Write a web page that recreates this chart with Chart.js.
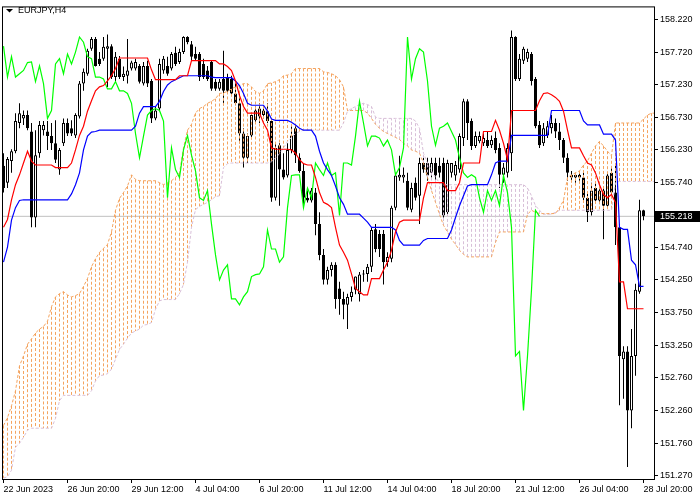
<!DOCTYPE html>
<html>
<head>
<meta charset="utf-8">
<script src="https://cdn.jsdelivr.net/npm/chart.js@4.4.1/dist/chart.umd.min.js"></script>
<style>
  html, body { margin: 0; padding: 0; background: #fff; }
</style>
</head>
<body>
<canvas id="myChart" width="700" height="500"></canvas>
<script>
// EURJPY H4 bars, index 0 = 22 Jun 2023 00:00
var open = [
  155.99,155.73,156.06,156.21,156.64,156.71,156.76,156.51,155.20,156.18,
  156.53,156.51,156.44,156.33,155.93,156.33,156.64,156.56,156.45,156.74,
  157.24,157.39,157.77,157.92,157.62,157.62,157.77,157.81,157.34,157.62,
  157.34,157.36,157.47,157.47,157.51,157.24,157.51,157.28,156.71,156.86,
  157.44,157.51,157.47,157.71,157.57,157.72,157.95,157.84,157.69,157.69,
  157.54,157.44,157.57,157.27,157.16,157.31,157.34,157.31,157.09,156.94,
  156.48,156.11,156.45,156.68,156.74,156.76,156.82,156.67,155.50,156.30,
  155.93,155.84,156.23,156.56,156.11,155.91,155.50,155.46,155.58,155.10,
  154.63,154.25,154.40,154.48,154.12,153.96,153.87,153.99,154.10,154.03,
  154.33,154.34,154.45,155.02,154.95,154.95,154.52,154.57,155.35,155.81,
  155.81,155.76,155.32,155.73,155.53,156.03,156.03,155.88,156.03,155.99,
  156.03,155.28,155.88,155.84,155.93,156.41,156.97,156.67,156.29,156.36,
  156.33,156.38,156.30,156.41,156.26,155.85,155.88,156.18,157.95,157.31,
  157.59,157.62,157.69,157.31,156.61,156.33,156.45,156.56,156.64,156.51,
  156.38,156.11,155.85,155.81,155.85,155.81,155.50,155.28,155.65,155.46,
  155.61,155.38,155.88,155.58,155.05,153.04,153.16,152.26,153.09,154.07,
  155.31
];
var high = [
  156.18,156.12,156.24,156.79,156.94,156.83,156.83,156.64,156.53,156.67,
  156.67,156.67,156.64,156.68,156.26,156.71,156.71,156.68,156.79,157.28,
  157.47,157.77,157.95,157.95,157.72,157.95,157.99,157.84,157.72,157.66,
  157.50,157.92,157.59,157.62,157.54,157.57,157.59,157.31,156.89,157.62,
  157.66,157.65,157.72,157.80,157.77,157.96,157.96,157.89,157.80,157.72,
  157.62,157.51,157.59,157.31,157.31,157.74,157.39,157.36,157.24,157.09,
  156.56,156.48,156.79,156.89,156.94,156.86,156.94,156.71,156.33,156.33,
  156.18,156.33,156.61,156.61,156.18,156.03,155.61,155.65,155.65,155.28,
  154.72,154.45,154.52,154.52,154.22,154.07,154.04,154.15,154.30,154.37,
  154.40,154.49,155.05,155.10,155.01,155.01,154.67,155.38,155.88,156.14,
  155.96,155.88,155.73,155.81,156.11,156.11,156.11,156.11,156.11,156.11,
  156.11,156.08,156.03,156.06,156.48,157.01,157.00,156.71,156.51,156.51,
  156.48,156.51,156.45,156.51,156.33,156.03,156.33,158.05,157.96,157.69,
  157.80,157.77,157.72,157.34,156.67,156.64,156.67,156.76,156.71,156.64,
  156.41,156.18,155.91,155.88,155.91,155.88,155.58,155.73,155.73,155.65,
  155.65,155.88,155.96,156.03,155.10,153.24,153.24,153.50,154.19,155.47,
  155.32
];
var low = [
  155.58,155.65,155.88,156.18,156.56,156.61,156.53,155.05,155.05,156.11,
  156.45,156.23,156.23,156.03,155.85,156.29,156.44,156.44,156.41,156.71,
  157.13,157.36,157.74,157.50,157.51,157.59,157.19,157.31,157.28,157.31,
  157.28,157.24,157.44,157.44,157.24,157.21,157.19,156.64,156.68,156.82,
  157.39,157.36,157.44,157.51,157.54,157.69,157.84,157.59,157.59,157.28,
  157.31,157.28,157.13,157.13,157.13,156.91,157.09,157.06,156.91,156.33,
  155.96,156.03,156.41,156.64,156.64,156.71,156.64,155.44,155.46,155.38,
  155.78,155.81,156.18,156.03,155.88,155.38,155.43,155.43,154.93,154.55,
  154.18,154.18,154.30,153.81,153.72,153.65,153.50,153.92,154.03,153.92,
  154.22,154.22,154.37,154.67,154.60,154.18,154.45,154.52,155.31,155.76,
  155.73,155.31,155.28,155.46,155.10,155.88,155.76,155.81,155.76,155.81,
  155.16,155.23,155.81,155.76,155.88,156.29,156.38,156.23,156.26,156.33,
  156.29,156.26,156.26,156.18,155.65,155.73,155.81,155.91,157.28,157.28,
  157.54,157.57,157.21,156.56,156.26,156.29,156.41,156.48,156.41,156.23,
  156.03,155.76,155.76,155.73,155.76,155.43,155.13,155.23,155.43,155.43,
  154.87,155.35,155.55,154.78,152.34,152.44,151.40,151.99,152.79,154.04,
  155.16
];
var close = [
  155.65,156.09,156.21,156.67,156.79,156.76,156.56,155.20,156.15,156.61,
  156.61,156.44,156.33,156.08,156.23,156.64,156.48,156.48,156.76,157.24,
  157.42,157.74,157.92,157.51,157.54,157.80,157.81,157.34,157.65,157.34,
  157.39,157.44,157.56,157.57,157.27,157.51,157.24,156.71,156.83,157.54,
  157.62,157.39,157.69,157.54,157.72,157.95,157.87,157.65,157.62,157.34,
  157.34,157.31,157.16,157.16,157.27,157.13,157.13,157.09,156.94,156.48,
  156.11,156.44,156.76,156.83,156.86,156.83,156.67,155.50,156.26,155.93,
  155.81,156.23,156.45,156.15,155.91,155.50,155.46,155.61,155.10,154.63,
  154.25,154.40,154.48,153.96,153.96,153.87,153.99,154.07,154.30,154.33,
  154.34,154.45,155.01,154.72,154.72,154.52,154.60,155.35,155.84,155.85,
  155.85,155.35,155.65,155.50,156.03,155.93,155.84,156.03,155.84,155.88,
  155.23,156.03,156.03,156.00,156.44,156.97,156.64,156.29,156.44,156.44,
  156.41,156.29,156.38,156.23,155.85,155.96,156.26,157.95,157.31,157.62,
  157.77,157.72,157.28,156.59,156.30,156.56,156.59,156.64,156.51,156.38,
  156.11,155.88,155.81,155.85,155.81,155.50,155.28,155.61,155.46,155.61,
  155.38,155.84,155.58,155.05,153.09,153.16,152.26,153.09,154.10,155.31,
  155.218
];

// ichimoku lines
var tenkan = [
  155.05,155.17,155.47,155.70,155.85,156.03,156.21,156.06,156.00,156.00,
  156.00,156.00,156.00,155.96,155.96,155.96,155.96,156.03,156.23,156.45,
  156.59,156.82,156.98,157.13,157.19,157.21,157.28,157.36,157.47,157.63,
  157.63,157.63,157.63,157.63,157.63,157.63,157.63,157.45,157.30,157.30,
  157.30,157.30,157.30,157.30,157.36,157.36,157.36,157.59,157.59,157.59,
  157.59,157.59,157.59,157.59,157.54,157.54,157.50,157.44,157.28,157.06,
  156.89,156.79,156.79,156.79,156.79,156.64,156.53,156.26,156.24,156.24,
  156.24,156.24,156.23,156.18,156.08,156.02,156.00,156.00,155.81,155.58,
  155.43,155.40,155.35,155.05,154.78,154.67,154.55,154.34,154.12,154.07,
  154.02,154.02,154.27,154.27,154.27,154.40,154.52,154.70,154.98,155.13,
  155.16,155.16,155.16,155.16,155.16,155.50,155.73,155.73,155.73,155.73,
  155.73,155.61,155.61,155.61,155.73,156.03,156.03,156.03,156.03,156.03,
  156.51,156.51,156.51,156.68,156.53,156.33,156.08,156.83,156.83,156.83,
  156.83,156.83,156.83,156.83,156.98,157.09,157.10,157.07,157.03,156.97,
  156.82,156.53,156.26,156.26,156.26,156.14,156.03,156.00,155.88,155.70,
  155.55,155.50,155.55,155.43,154.22,154.22,153.81,153.81,153.81,153.81,
  153.81
];
var kijun = [
  154.52,154.75,155.16,155.35,155.46,155.47,155.47,155.47,155.47,155.47,
  155.47,155.47,155.47,155.47,155.47,155.47,155.47,155.56,155.70,155.88,
  156.23,156.44,156.50,156.51,156.53,156.53,156.53,156.53,156.53,156.53,
  156.53,156.53,156.53,156.59,156.79,156.89,156.89,156.89,156.89,156.97,
  157.12,157.22,157.27,157.30,157.33,157.36,157.36,157.36,157.36,157.36,
  157.36,157.36,157.34,157.33,157.33,157.33,157.33,157.33,157.28,157.21,
  157.09,156.94,156.91,156.91,156.91,156.91,156.82,156.70,156.68,156.68,
  156.68,156.68,156.65,156.61,156.56,156.53,156.53,156.53,156.44,156.21,
  156.03,155.93,155.84,155.68,155.50,155.40,155.25,155.25,155.25,155.25,
  155.19,155.13,155.05,155.05,155.05,155.05,155.05,155.05,155.01,154.85,
  154.78,154.78,154.78,154.78,154.78,154.85,154.88,154.88,154.88,154.88,
  154.88,154.88,155.01,155.20,155.38,155.53,155.68,155.70,155.70,155.70,
  155.70,155.70,155.85,156.03,156.06,156.06,156.06,156.45,156.45,156.45,
  156.45,156.45,156.45,156.45,156.45,156.45,156.45,156.83,156.83,156.83,
  156.83,156.83,156.83,156.83,156.83,156.67,156.61,156.61,156.61,156.61,
  156.47,156.47,156.47,156.38,155.05,155.02,155.02,154.55,154.48,154.15,
  154.15
];
// senkou spans run 3 bars past the last candle to the right edge
var senkouA = [
  152.03,152.15,152.33,152.56,152.94,153.09,153.27,153.35,153.44,153.50,
  153.54,153.62,153.84,153.99,154.04,154.07,154.02,153.99,154.01,154.04,
  154.15,154.27,154.45,154.57,154.67,154.73,154.79,154.98,155.31,155.49,
  155.58,155.68,155.85,155.78,155.76,155.76,155.76,155.76,155.76,155.73,
  155.70,155.73,155.76,155.81,155.88,156.26,156.53,156.62,156.79,156.86,
  156.89,156.94,156.97,157.01,157.09,157.10,157.12,157.16,157.19,157.21,
  157.24,157.24,157.19,157.12,157.09,157.13,157.24,157.25,157.27,157.30,
  157.36,157.37,157.39,157.47,157.47,157.47,157.47,157.47,157.47,157.47,
  157.42,157.41,157.39,157.36,157.30,157.19,156.83,156.83,156.83,156.83,
  156.83,156.79,156.71,156.62,156.56,156.51,156.48,156.45,156.42,156.39,
  156.33,156.29,156.23,156.21,156.18,156.03,155.81,155.61,155.43,155.25,
  155.08,154.98,154.87,154.79,154.70,154.64,154.60,154.60,154.60,154.60,
  154.60,154.60,154.60,154.82,154.98,154.98,154.98,154.98,154.98,154.98,
  154.98,155.25,155.31,155.28,155.26,155.26,155.26,155.26,155.26,155.35,
  155.46,155.81,155.85,155.88,155.91,156.00,156.06,156.18,156.29,156.36,
  156.29,156.21,156.14,156.64,156.64,156.64,156.64,156.64,156.64,156.64,
  156.70,156.76,156.79,156.79
];
var senkouB = [
  151.23,151.25,151.35,151.70,151.76,151.85,151.96,151.99,151.99,151.99,
  151.99,151.99,151.99,152.14,152.41,152.49,152.49,152.49,152.49,152.49,
  152.49,152.49,152.56,152.71,152.79,152.80,152.82,152.89,153.04,153.19,
  153.27,153.36,153.44,153.47,153.50,153.56,153.57,153.60,153.80,153.93,
  153.95,153.95,153.95,153.95,154.04,154.18,154.52,155.05,155.32,155.37,
  155.40,155.43,155.47,155.52,155.53,155.96,156.02,156.03,156.03,156.03,
  156.03,156.03,156.03,156.03,156.03,156.03,156.03,156.05,156.11,156.17,
  156.26,156.36,156.42,156.48,156.51,156.53,156.53,156.53,156.53,156.53,
  156.53,156.53,156.53,156.53,156.53,156.64,156.82,156.86,156.89,156.92,
  156.94,156.92,156.89,156.73,156.71,156.71,156.71,156.71,156.71,156.71,
  156.71,156.71,156.71,156.67,156.56,156.18,156.03,155.91,155.81,155.73,
  155.70,155.70,155.70,155.70,155.70,155.70,155.70,155.70,155.70,155.70,
  155.70,155.70,155.70,155.70,155.70,155.70,155.70,155.70,155.70,155.70,
  155.70,155.65,155.53,155.38,155.31,155.25,155.25,155.25,155.28,155.31,
  155.31,155.31,155.31,155.31,155.31,155.31,155.31,155.31,155.31,155.31,
  155.31,155.31,155.31,155.73,155.75,155.75,155.75,155.75,155.75,155.75,
  155.75,155.75,155.75,155.75
];

// axis labels
var timeLabels = ["22 Jun 2023", "26 Jun 20:00", "29 Jun 12:00", "4 Jul 04:00", "6 Jul 20:00",
  "11 Jul 12:00", "14 Jul 04:00", "18 Jul 20:00", "21 Jul 12:00", "26 Jul 04:00", "28 Jul 20:00"];
var labelStep = 16; // one time label every 16 bars
var priceTicks = [158.22, 157.72, 157.23, 156.73, 156.23, 155.74, 154.74, 154.25,
  153.75, 153.25, 152.76, 152.26, 151.76, 151.27];

var FONT = { family: "Liberation Sans", size: 9 };
var SANDY = "#f4a460";
var THISTLE = "#d8bfd8";
var lastPrice = close[close.length - 1];

function pts(arr) {
  return arr.map(function (v, i) { return { x: i, y: v }; });
}

var mt4Frame = {
  id: "mt4Frame",
  beforeDraw: function (chart) {
    var c = chart.ctx;
    c.save();
    c.fillStyle = "#fff";
    c.fillRect(0, 0, chart.width, chart.height);
    c.restore();
  },
  afterDraw: function (chart) {
    var c = chart.ctx;
    var a = chart.chartArea;
    c.save();
    // frame
    c.strokeStyle = "#000";
    c.lineWidth = 1;
    c.strokeRect(a.left - 0.5, a.top - 0.5, a.right - a.left + 1, a.bottom - a.top + 1);
    // symbol title
    c.fillStyle = "#000";
    c.beginPath();
    c.moveTo(6, 9);
    c.lineTo(13, 9);
    c.lineTo(9.5, 12.5);
    c.closePath();
    c.fill();
    c.font = "9px 'Liberation Sans'";
    c.textBaseline = "middle";
    c.textAlign = "left";
    c.fillText("EURJPY,H4", 18, 11);
    // current price tag
    var y = Math.round(chart.scales.y.getPixelForValue(lastPrice));
    c.fillStyle = "#000";
    c.fillRect(a.right + 1, y - 5, 700 - a.right - 1, 11);
    c.fillStyle = "#fff";
    c.fillText(lastPrice.toFixed(3), a.right + 6, y + 0.5);
    c.restore();
  }
};

var bodyColors = open.map(function (o, i) { return close[i] >= o ? "#ffffff" : "#000000"; });

var datasets = [
  {
    // bid line
    type: "line",
    data: [{ x: -5, y: lastPrice }, { x: 170, y: lastPrice }],
    borderColor: "#c0c0c0",
    borderWidth: 1,
    pointRadius: 0,
    order: 9,
  },
  {
    // wicks
    type: "bar",
    data: low.map(function (l, i) { return { x: i, y: [l, high[i]] }; }),
    backgroundColor: "#000",
    barThickness: 1,
    grouped: false,
    minBarLength: 1,
    inflateAmount: 0,
    order: 8,
  },
  {
    // bodies
    type: "bar",
    data: open.map(function (o, i) { return { x: i, y: [o, close[i]] }; }),
    backgroundColor: bodyColors,
    borderColor: "#000",
    borderWidth: 1,
    borderSkipped: false,
    barThickness: 3,
    grouped: false,
    minBarLength: 1,
    inflateAmount: 0,
    order: 7,
  },
];

// cloud hatch: one dashed vertical per bar between span A and span B
senkouA.forEach(function (a, i) {
  datasets.push({
    type: "line",
    data: [{ x: i, y: a }, { x: i, y: senkouB[i] }],
    borderColor: a >= senkouB[i] ? SANDY : THISTLE,
    borderWidth: 1,
    borderDash: [3, 2],
    pointRadius: 0,
    order: 6,
  });
});

datasets.push(
  {
    type: "line",
    data: pts(senkouB),
    borderColor: THISTLE,
    borderWidth: 1,
    borderDash: [3, 2],
    pointRadius: 0,
    order: 5,
  },
  {
    type: "line",
    data: pts(senkouA),
    borderColor: SANDY,
    borderWidth: 1,
    borderDash: [3, 2],
    pointRadius: 0,
    order: 4,
  },
  {
    // chikou span = close drawn 26 bars back
    type: "line",
    data: pts(close.slice(26)),
    borderColor: "#00ff00",
    borderWidth: 1.2,
    pointRadius: 0,
    order: 3,
  },
  {
    type: "line",
    data: pts(kijun),
    borderColor: "#0000ff",
    borderWidth: 1.2,
    pointRadius: 0,
    order: 2,
  },
  {
    type: "line",
    data: pts(tenkan),
    borderColor: "#ff0000",
    borderWidth: 1.2,
    pointRadius: 0,
    order: 1,
  }
);

var ctx = document.getElementById("myChart").getContext("2d");
var myChart = new Chart(ctx, {
  data: { datasets: datasets },
  options: {
    responsive: false,
    animation: false,
    devicePixelRatio: 1,
    layout: { padding: { left: 3, top: 3, right: 0, bottom: 0 } },
    elements: { line: { tension: 0 } },
    plugins: { legend: { display: false }, tooltip: { enabled: false } },
    scales: {
      x: {
        type: "linear",
        position: "bottom",
        offset: false,
        min: -0.125,
        max: 162.625,
        grid: { offset: false, drawOnChartArea: false, drawTicks: true, tickLength: 4, color: "#000" },
        border: { display: false },
        ticks: {
          autoSkip: false,
          maxRotation: 0,
          align: "start",
          padding: 1,
          color: "#000",
          font: FONT,
          callback: function (v, i) { return timeLabels[i]; },
        },
        afterBuildTicks: function (s) {
          s.ticks = timeLabels.map(function (t, k) { return { value: k * labelStep }; });
        },
        afterFit: function (s) { s.height = 21; },
      },
      y: {
        type: "linear",
        position: "right",
        min: 151.216,
        max: 158.401,
        grid: { drawOnChartArea: false, drawTicks: true, tickLength: 4, color: "#000" },
        border: { display: false },
        ticks: {
          padding: 2,
          color: "#000",
          font: FONT,
          callback: function (v) { return v.toFixed(3); },
        },
        afterBuildTicks: function (s) {
          s.ticks = priceTicks.map(function (v) { return { value: v }; });
        },
        afterFit: function (s) { s.width = 46; },
      },
    },
  },
  plugins: [mt4Frame],
});
</script>
</body>
</html>
